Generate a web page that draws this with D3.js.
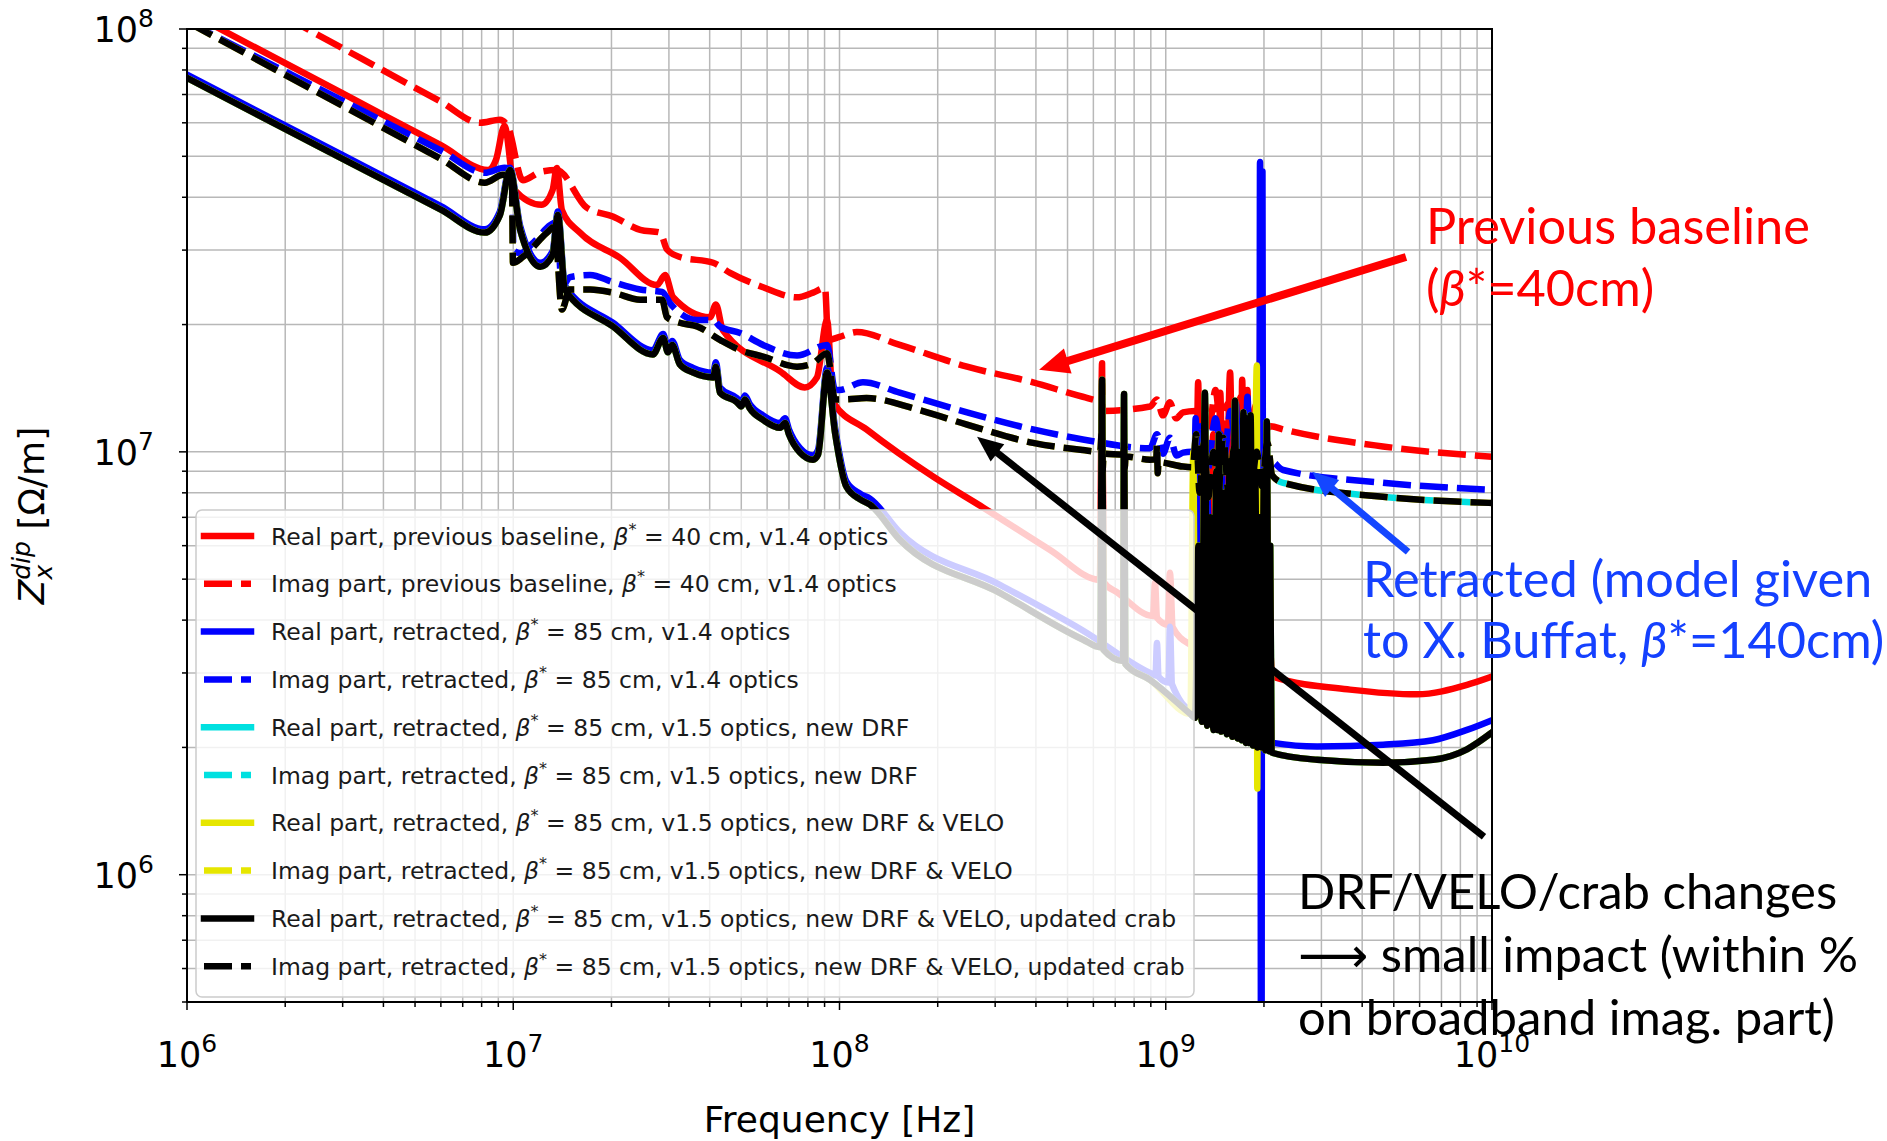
<!DOCTYPE html>
<html><head><meta charset="utf-8">
<script src="https://cdn.jsdelivr.net/npm/d3@7/dist/d3.min.js"></script>
<style>
html,body{margin:0;padding:0;background:#fff;}
svg{display:block;}
</style></head>
<body>
<svg id="chart" width="1887" height="1141"></svg>
<script>
// ---------------- axes / ticks ----------------
const freqDomain = [1e6, 1e10];
const zDomain = [5e5, 1e8];
const xMajorTicks = [1e6, 1e7, 1e8, 1e9, 1e10];
const xTickExponents = ["6", "7", "8", "9", "10"];
const yMajorTicks = [1e6, 1e7, 1e8];
const yTickExponents = ["6", "7", "8"];

// ---------------- series values [frequency Hz, |Z| Ohm/m] ----------------
const redRe = [
  [1e6,1.10e8],[3e6,7.04e7],[6e6,5.31e7],[8.37e6,4.64e7],[8.85e6,4.90e7],[9.4e6,5.9e7],[1.01e7,4.16e7],[1.22e7,3.84e7],
  [1.32e7,4.16e7],[1.36e7,4.69e7],[1.41e7,3.73e7],[1.60e7,3.30e7],[2.12e7,2.88e7],[2.76e7,2.48e7],
  [2.92e7,2.62e7],[3.09e7,2.32e7],[4.01e7,2.08e7],[4.18e7,2.23e7],[4.39e7,1.94e7],[6.58e7,1.55e7],
  [7.83e7,1.42e7],[8.53e7,1.50e7],[9.16e7,2.05e7],[9.56e7,1.31e7],[1.21e8,1.13e7],[1.94e8,8.73e6],
  [2.76e8,7.38e6],[4.42e8,5.86e6],[6.28e8,4.98e6],[6.38e8,1.62e7],[6.45e8,4.92e6],[7.1e8,4.65e6],
  [9.14e8,4.09e6],[9.27e8,4.90e6],[9.4e8,4.05e6],[1.016e9,3.90e6],[1.03e9,5.18e6],[1.05e9,3.85e6],
  [1.19e9,3.5e6],[1.23e9,3.45e6],[1.257e9,1.46e7],[1.283e9,3.4e6],[1.321e9,9.0e6],[1.359e9,3.35e6],
  [1.398e9,1.1e7],[1.438e9,3.3e6],[1.469e9,1.38e7],[1.511e9,3.25e6],[1.575e9,1.54e7],[1.621e9,3.2e6],
  [1.667e9,1.2e7],[1.69e9,3.15e6],[1.715e9,1.48e7],[1.75e9,3.1e6],[1.78e9,1.4e7],[1.82e9,3.05e6],
  [1.877e9,1.0e7],[1.92e9,3.0e6],[1.955e9,2.64e7],[1.99e9,3.0e6],[2.05e9,4.0e6],[2.13e9,2.94e6],
  [3.67e9,2.74e6],[5.89e9,2.67e6],[8.38e9,2.81e6],[1e10,2.94e6]
];
const redIm = [
  [1e6,1.43e8],[3e6,9.0e7],[6e6,6.73e7],[7.91e6,6.0e7],[9.1e6,6.1e7],[9.63e6,5.87e7],[1.07e7,4.39e7],[1.21e7,4.59e7],
  [1.36e7,4.64e7],[1.68e7,3.78e7],[2.02e7,3.60e7],[2.45e7,3.35e7],[2.82e7,3.30e7],[2.96e7,3.01e7],
  [3.24e7,2.89e7],[4.10e7,2.80e7],[4.62e7,2.65e7],[5.83e7,2.45e7],[7.41e7,2.32e7],[8.30e7,2.38e7],
  [9.03e7,2.44e7],[9.23e7,1.84e7],[1.0e8,1.87e7],[1.13e8,1.92e7],[1.53e8,1.79e7],[2.46e8,1.59e7],
  [3.92e8,1.46e7],[5.57e8,1.35e7],[6.35e8,1.32e7],[6.38e8,1.45e7],[6.42e8,1.25e7],[8.95e8,1.28e7],
  [9.40e8,1.33e7],[9.80e8,1.22e7],[1.03e9,1.31e7],[1.075e9,1.20e7],[1.13e9,1.24e7],[1.23e9,1.25e7],
  [1.26e9,1.1e7],[1.30e9,1.35e7],[1.36e9,1.15e7],[1.42e9,1.4e7],[1.48e9,1.1e7],[1.55e9,1.3e7],
  [1.62e9,1.15e7],[1.70e9,1.35e7],[1.80e9,1.12e7],[1.90e9,1.3e7],[2.0e9,1.12e7],[2.1e9,1.15e7],
  [2.29e9,1.13e7],[4.63e9,1.03e7],[1e10,9.73e6]
];
const blueRe = [
  [1e6,7.8e7],[3e6,5.03e7],[6e6,3.81e7],[8.18e6,3.36e7],[9.1e6,3.70e7],[9.77e6,4.7e7],[1.05e7,3.42e7],[1.21e7,2.80e7],
  [1.32e7,2.98e7],[1.37e7,3.7e7],[1.44e7,2.47e7],[2.02e7,2.02e7],[2.68e7,1.74e7],[2.88e7,1.90e7],
  [2.98e7,1.76e7],[3.07e7,1.83e7],[3.24e7,1.65e7],[3.56e7,1.58e7],[4.10e7,1.54e7],[4.18e7,1.63e7],
  [4.30e7,1.42e7],[4.85e7,1.34e7],[5.0e7,1.31e7],[5.13e7,1.36e7],[5.3e7,1.30e7],[5.83e7,1.22e7],
  [6.58e7,1.17e7],[6.81e7,1.20e7],[7.0e7,1.13e7],[7.57e7,1.02e7],[8.30e7,9.8e6],[8.59e7,1.01e7],
  [9.16e7,1.58e7],[9.69e7,1.14e7],[1.05e8,8.5e6],[1.16e8,7.95e6],[1.24e8,7.75e6],[1.53e8,6.45e6],
  [3.10e8,4.85e6],[5.57e8,3.78e6],[8.95e8,3.0e6],[9.3e8,2.96e6],[9.4e8,3.53e6],[9.5e8,2.94e6],
  [1.02e9,2.85e6],[1.03e9,3.86e6],[1.045e9,2.82e6],[1.21e9,2.45e6],[1.235e9,1.2e7],[1.26e9,2.4e6],
  [1.33e9,9e6],[1.40e9,2.3e6],[1.47e9,1.1e7],[1.55e9,2.2e6],[1.64e9,1.3e7],[1.72e9,2.15e6],
  [1.78e9,1.35e7],[1.85e9,2.1e6],[1.90e9,8e6],[1.935e9,2.1e6],[1.945e9,4.85e7],[1.962e9,1.2e5],
  [1.979e9,4.6e7],[1.99e9,2.08e6],[2.05e9,2.06e6],[2.13e9,2.05e6],[2.91e9,2.01e6],[4.64e9,2.03e6],
  [6.59e9,2.08e6],[8.38e9,2.20e6],[1e10,2.32e6]
];
const blueIm = [
  [1e6,1.04e8],[3e6,6.77e7],[6e6,5.16e7],[8.18e6,4.57e7],[9.4e6,4.7e7],[9.95e6,4.6e7],[1.0e7,3.0e7],[1.05e7,2.95e7],
  [1.15e7,3.12e7],[1.30e7,3.44e7],[1.36e7,3.5e7],[1.41e7,2.45e7],[1.49e7,2.59e7],[1.72e7,2.62e7],
  [2.02e7,2.52e7],[2.45e7,2.42e7],[2.86e7,2.39e7],[3.02e7,2.25e7],[3.24e7,2.13e7],[3.66e7,2.05e7],
  [4.10e7,2.05e7],[4.30e7,1.98e7],[4.96e7,1.91e7],[5.83e7,1.79e7],[7.41e7,1.69e7],[9.16e7,1.79e7],
  [9.69e7,1.40e7],[1.0e8,1.40e7],[1.18e8,1.46e7],[1.53e8,1.38e7],[2.46e8,1.24e7],[3.92e8,1.13e7],
  [5.57e8,1.07e7],[8.95e8,1.02e7],[9.4e8,1.1e7],[9.8e8,9.9e6],[1.03e9,1.08e7],[1.08e9,9.8e6],
  [1.13e9,9.96e6],[1.2e9,1.0e7],[1.23e9,8.8e6],[1.28e9,1.15e7],[1.34e9,9.0e6],[1.42e9,1.2e7],
  [1.5e9,9.2e6],[1.58e9,1.25e7],[1.66e9,9.0e6],[1.75e9,1.18e7],[1.84e9,9.1e6],[1.93e9,1.1e7],
  [2.02e9,9.0e6],[2.1e9,9.5e6],[2.29e9,9.06e6],[4.63e9,8.45e6],[1e10,8.13e6]
];
// v1.5 optics curves (new DRF, + VELO, + updated crab) lie on top of each other
const v15Re = [
  [1e6,7.66e7],[3e6,4.93e7],[6e6,3.74e7],[8.18e6,3.30e7],[9.1e6,3.63e7],[9.77e6,4.64e7],[1.05e7,3.35e7],[1.21e7,2.74e7],
  [1.32e7,2.92e7],[1.37e7,3.63e7],[1.44e7,2.42e7],[2.02e7,1.98e7],[2.68e7,1.70e7],[2.88e7,1.86e7],
  [2.98e7,1.72e7],[3.07e7,1.79e7],[3.24e7,1.61e7],[3.56e7,1.54e7],[4.10e7,1.50e7],[4.18e7,1.59e7],
  [4.30e7,1.38e7],[4.85e7,1.31e7],[5.0e7,1.28e7],[5.13e7,1.33e7],[5.3e7,1.27e7],[5.83e7,1.19e7],
  [6.58e7,1.14e7],[6.81e7,1.17e7],[7.0e7,1.10e7],[7.57e7,9.96e6],[8.30e7,9.58e6],[8.59e7,9.84e6],
  [9.16e7,1.54e7],[9.69e7,1.11e7],[1.05e8,8.27e6],[1.16e8,7.71e6],[1.24e8,7.50e6],[1.53e8,6.20e6],
  [3.10e8,4.64e6],[5.57e8,3.60e6],[6.30e8,3.45e6],[6.38e8,1.48e7],[6.45e8,3.40e6],[7.40e8,3.20e6],
  [7.45e8,1.37e7],[7.52e8,3.15e6],[8.95e8,2.89e6],[1.19e9,2.40e6],[1.23e9,2.35e6],[1.26e9,6e6],
  [1.29e9,2.3e6],[1.318e9,1.38e7],[1.34e9,2.25e6],[1.37e9,7e6],[1.40e9,2.2e6],[1.43e9,9e6],
  [1.44e9,2.2e6],[1.455e9,1.1e7],[1.48e9,2.18e6],[1.51e9,8e6],[1.54e9,2.15e6],[1.57e9,9.5e6],
  [1.60e9,2.12e6],[1.63e9,1.32e7],[1.66e9,2.1e6],[1.69e9,1.0e7],[1.71e9,2.08e6],[1.73e9,1.24e7],
  [1.76e9,2.05e6],[1.79e9,1.2e7],[1.80e9,2.05e6],[1.82e9,1.22e7],[1.85e9,2.02e6],[1.88e9,9e6],
  [1.91e9,2.0e6],[1.94e9,7e6],[1.97e9,2.0e6],[2.00e9,9e6],[2.02e9,1.97e6],[2.04e9,1.18e7],
  [2.07e9,1.96e6],[2.09e9,6e6],[2.11e9,1.95e6],[2.13e9,1.94e6],[2.91e9,1.87e6],[4.64e9,1.84e6],
  [6.59e9,1.87e6],[8.38e9,1.98e6],[1e10,2.17e6]
];
const v15Im = [
  [1e6,1.04e8],[3e6,6.58e7],[6e6,4.93e7],[8.18e6,4.33e7],[9.31e6,4.52e7],[9.91e6,4.47e7],[9.98e6,2.80e7],[1.07e7,2.89e7],
  [1.27e7,3.30e7],[1.34e7,3.41e7],[1.41e7,2.17e7],[1.49e7,2.42e7],[1.72e7,2.42e7],[2.02e7,2.38e7],
  [2.45e7,2.29e7],[2.86e7,2.29e7],[2.96e7,2.08e7],[3.24e7,2.02e7],[3.66e7,1.98e7],[4.30e7,1.84e7],
  [4.96e7,1.74e7],[5.83e7,1.68e7],[7.41e7,1.59e7],[8.30e7,1.62e7],[9.16e7,1.71e7],[9.69e7,1.33e7],
  [1.03e8,1.33e7],[1.21e8,1.34e7],[1.73e8,1.26e7],[2.46e8,1.16e7],[3.92e8,1.05e7],[5.57e8,1.01e7],
  [6.30e8,1.0e7],[6.36e8,1.1e7],[6.40e8,9.0e6],[6.45e8,9.9e6],[7.42e8,9.85e6],[7.46e8,1.03e7],
  [7.49e8,9.2e6],[7.53e8,9.75e6],[8.95e8,9.58e6],[9.35e8,9.6e6],[9.40e8,1.04e7],[9.45e8,8.9e6],
  [9.5e8,9.45e6],[1.13e9,9.23e6],[1.21e9,9.2e6],[1.24e9,1.1e7],[1.27e9,8.0e6],[1.31e9,1.05e7],
  [1.35e9,7.8e6],[1.40e9,1.0e7],[1.45e9,8.2e6],[1.50e9,1.08e7],[1.56e9,7.9e6],[1.62e9,1.02e7],
  [1.68e9,8.1e6],[1.75e9,1.05e7],[1.82e9,8.0e6],[1.90e9,1.0e7],[1.97e9,8.3e6],[2.05e9,1.05e7],
  [2.12e9,8.8e6],[2.29e9,8.45e6],[4.63e9,7.83e6],[1e10,7.57e6]
];
// extra resonances only visible for the "new DRF & VELO" real part
const yellowReExtra = [[1.215e9,1.0e7],[1.902e9,1.6e7],[1.908e9,1.6e6]];

// ---------------- legend text ----------------
const legendPart = ["Real","Imag","Real","Imag","Real","Imag","Real","Imag","Real","Imag"];
const legendCase = ["previous baseline","previous baseline","retracted","retracted","retracted","retracted","retracted","retracted","retracted","retracted"];
const legendBeta = ["40","40","85","85","85","85","85","85","85","85"];
const legendTail = ["v1.4 optics","v1.4 optics","v1.4 optics","v1.4 optics",
  "v1.5 optics, new DRF","v1.5 optics, new DRF",
  "v1.5 optics, new DRF & VELO","v1.5 optics, new DRF & VELO",
  "v1.5 optics, new DRF & VELO, updated crab","v1.5 optics, new DRF & VELO, updated crab"];
const seriesColors = ["#ff0000","#ff0000","#0000ff","#0000ff","#00e0e0","#00e0e0","#e6e600","#e6e600","#000000","#000000"];
const seriesDashed = [false,true,false,true,false,true,false,true,false,true];

// ---------------- annotations ----------------
const arrowRed = [[5.45e9,2.89e7],[4.09e8,1.563e7]];
const arrowBlue = [[5.53e9,5.80e6],[2.81e9,8.97e6]];
const arrowBlack = [[9.45e9,1.23e6],[2.64e8,1.085e7]];

// ======================================================
const W = 1887, H = 1141;
const M = {top: 29, left: 187, right: 395, bottom: 139};
const svg = d3.select("#chart");
const x = d3.scaleLog().domain(freqDomain).range([M.left, W - M.right]);
const y = d3.scaleLog().domain(zDomain).range([H - M.bottom, M.top]);
const X0 = M.left, X1 = W - M.right, Y0 = M.top, Y1 = H - M.bottom;

svg.append("defs").append("clipPath").attr("id","plotclip")
  .append("rect").attr("x",X0).attr("y",Y0).attr("width",X1-X0).attr("height",Y1-Y0);

// grid (major + minor)
const grid = svg.append("g").attr("stroke","#b8b8b8").attr("stroke-width",1.5);
grid.selectAll("line.gx").data(x.ticks()).join("line").attr("class","gx")
  .attr("x1",d=>x(d)).attr("x2",d=>x(d)).attr("y1",Y0).attr("y2",Y1);
grid.selectAll("line.gy").data(y.ticks()).join("line").attr("class","gy")
  .attr("y1",d=>y(d)).attr("y2",d=>y(d)).attr("x1",X0).attr("x2",X1);

// series
const merge = (a,b) => a.concat(b).sort((p,q)=>p[0]-q[0]);
const seriesData = [redRe, redIm, blueRe, blueIm, v15Re, v15Im, merge(v15Re, yellowReExtra), v15Im, v15Re, v15Im];
const line = d3.line().x(d=>x(d[0])).y(d=>y(d[1])).curve(d3.curveMonotoneX);
const LW = 6.5, DASH = 28, GAP = 9;
const plot = svg.append("g").attr("clip-path","url(#plotclip)");
const paths = seriesData.map((data,i) => plot.append("path")
  .attr("d", line(data)).attr("fill","none")
  .attr("stroke", seriesColors[i]).attr("stroke-width", LW)
  .attr("stroke-linejoin","round")
  .attr("stroke-linecap", seriesDashed[i] ? "butt" : "square")
  .attr("stroke-dasharray", seriesDashed[i] ? `${DASH},${GAP}` : null));

// Cyan dashed (same values as black dashed) only shows in the black gaps after the dense
// resonance region: dash phase reproduced from the black dashed path geometry.
(function(){
  const node = paths[9].node();
  const L = node.getTotalLength();
  const xt = x(2.13e9);
  let lo = 0, hi = L;
  for (let i = 0; i < 40; i++) { const mid = (lo+hi)/2; if (node.getPointAtLength(mid).x < xt) lo = mid; else hi = mid; }
  const P = DASH + GAP;
  const start = lo + ((DASH - (lo % P)) + P) % P;
  const arr = [0, start];
  for (let s = start; s < L + P; s += P) arr.push(GAP, DASH);
  paths[5].attr("stroke-dasharray", arr.join(","));
})();

// spines
svg.append("rect").attr("x",X0).attr("y",Y0).attr("width",X1-X0).attr("height",Y1-Y0)
  .attr("fill","none").attr("stroke","#000").attr("stroke-width",2);

// ticks
const ticks = svg.append("g").attr("stroke","#000").attr("stroke-width",1.5);
const xMinor = x.ticks().filter(t => !xMajorTicks.includes(t));
const yMinor = y.ticks().filter(t => !yMajorTicks.includes(t));
ticks.selectAll("line.xM").data(xMajorTicks).join("line").attr("x1",d=>x(d)).attr("x2",d=>x(d)).attr("y1",Y1).attr("y2",Y1+8);
ticks.selectAll("line.xm").data(xMinor).join("line").attr("x1",d=>x(d)).attr("x2",d=>x(d)).attr("y1",Y1).attr("y2",Y1+5);
ticks.selectAll("line.yM").data(yMajorTicks).join("line").attr("y1",d=>y(d)).attr("y2",d=>y(d)).attr("x1",X0).attr("x2",X0-8);
ticks.selectAll("line.ym").data(yMinor).join("line").attr("y1",d=>y(d)).attr("y2",d=>y(d)).attr("x1",X0).attr("x2",X0-5);

const TF = "'DejaVu Sans', sans-serif";
xMajorTicks.forEach((t,i) => {
  const tx = svg.append("text").attr("x", x(t)).attr("y", Y1 + 65).attr("text-anchor","middle")
    .attr("font-family",TF).attr("font-size",35).attr("fill","#000");
  tx.append("tspan").text("10");
  tx.append("tspan").attr("font-size",25).attr("dy",-15).text(xTickExponents[i]);
});
yMajorTicks.forEach((t,i) => {
  const tx = svg.append("text").attr("x", 154).attr("y", y(t) + 13).attr("text-anchor","end")
    .attr("font-family",TF).attr("font-size",35).attr("fill","#000");
  tx.append("tspan").text("10");
  tx.append("tspan").attr("font-size",25).attr("dy",-15).text(yTickExponents[i]);
});

// axis labels
svg.append("text").attr("x",(X0+X1)/2).attr("y",1132).attr("text-anchor","middle")
  .attr("font-family",TF).attr("font-size",36).attr("fill","#000").text("Frequency [Hz]");
const yl = svg.append("text").attr("transform",`translate(44,${(Y0+Y1)/2}) rotate(-90)`)
  .attr("text-anchor","middle").attr("font-family",TF).attr("font-size",36).attr("fill","#000");
yl.append("tspan").attr("font-style","italic").text("Z");
yl.append("tspan").attr("font-style","italic").attr("font-size",25).attr("dy",8).text("x");
yl.append("tspan").attr("font-style","italic").attr("font-size",25).attr("dx",-15).attr("dy",-22).text("dip");
yl.append("tspan").attr("dy",14).text(" [Ω/m]");

// legend
const lg = svg.append("g");
lg.append("rect").attr("x",196).attr("y",510).attr("width",998).attr("height",487).attr("rx",6)
  .attr("fill","#fff").attr("fill-opacity",0.8).attr("stroke","#cccccc").attr("stroke-width",1.5);
legendPart.forEach((p,i) => {
  const cy = 536 + i*47.8;
  lg.append("line").attr("x1",204).attr("x2",251).attr("y1",cy).attr("y2",cy)
    .attr("stroke",seriesColors[i]).attr("stroke-width",LW)
    .attr("stroke-linecap", seriesDashed[i] ? "butt" : "square")
    .attr("stroke-dasharray", seriesDashed[i] ? `${DASH},${GAP}` : null);
  const t = lg.append("text").attr("x",271).attr("y",cy+8.5).attr("font-family",TF)
    .attr("font-size",23.5).attr("fill","#1a1a1a");
  t.append("tspan").text(`${p} part, ${legendCase[i]}, `);
  t.append("tspan").attr("font-style","italic").text("β");
  t.append("tspan").attr("font-size",16).attr("dy",-10).text("*");
  t.append("tspan").attr("dy",10).text(` = ${legendBeta[i]} cm, ${legendTail[i]}`);
});

// annotation arrows
function arrow(a, color, width, headLen, headW) {
  const x0 = x(a[0][0]), y0 = y(a[0][1]), x1 = x(a[1][0]), y1 = y(a[1][1]);
  const ang = Math.atan2(y1-y0, x1-x0), c = Math.cos(ang), s = Math.sin(ang);
  const bx = x1 - headLen*c, by = y1 - headLen*s;
  svg.append("line").attr("x1",x0).attr("y1",y0).attr("x2",bx+2*c).attr("y2",by+2*s)
    .attr("stroke",color).attr("stroke-width",width);
  svg.append("path").attr("fill",color)
    .attr("d",`M${x1},${y1}L${bx - headW/2*s},${by + headW/2*c}L${bx + headW/2*s},${by - headW/2*c}Z`);
}
arrow(arrowRed, "#ff0000", 8, 30, 26);
arrow(arrowBlue, "#1446ff", 7, 26, 22);
arrow(arrowBlack, "#000000", 7, 26, 22);

// annotation text
const AF = "Lato, 'DejaVu Sans', sans-serif";
function note(xp, yp, color, size, parts) {
  const t = svg.append("text").attr("x",xp).attr("y",yp).attr("font-family",AF)
    .attr("font-size",size).attr("fill",color);
  parts.forEach(p => { const s = t.append("tspan").text(p[0]); if (p[1]) s.attr("font-style","italic"); });
}
note(1426, 244, "#ff0000", 50.5, [["Previous baseline"]]);
note(1426, 306, "#ff0000", 50.5, [["("],["β",1],["*=40cm)"]]);
note(1363, 597, "#1440ff", 50.5, [["Retracted (model given"]]);
note(1363, 658, "#1440ff", 50.5, [["to X. Buffat, "],["β",1],["*=140cm)"]]);
note(1298, 909, "#000", 49, [["DRF/VELO/crab changes"]]);
note(1298, 972, "#000", 49, [["⟶ small impact (within %"]]);
note(1298, 1035, "#000", 49, [["on broadband imag. part)"]]);
</script>
</body></html>
